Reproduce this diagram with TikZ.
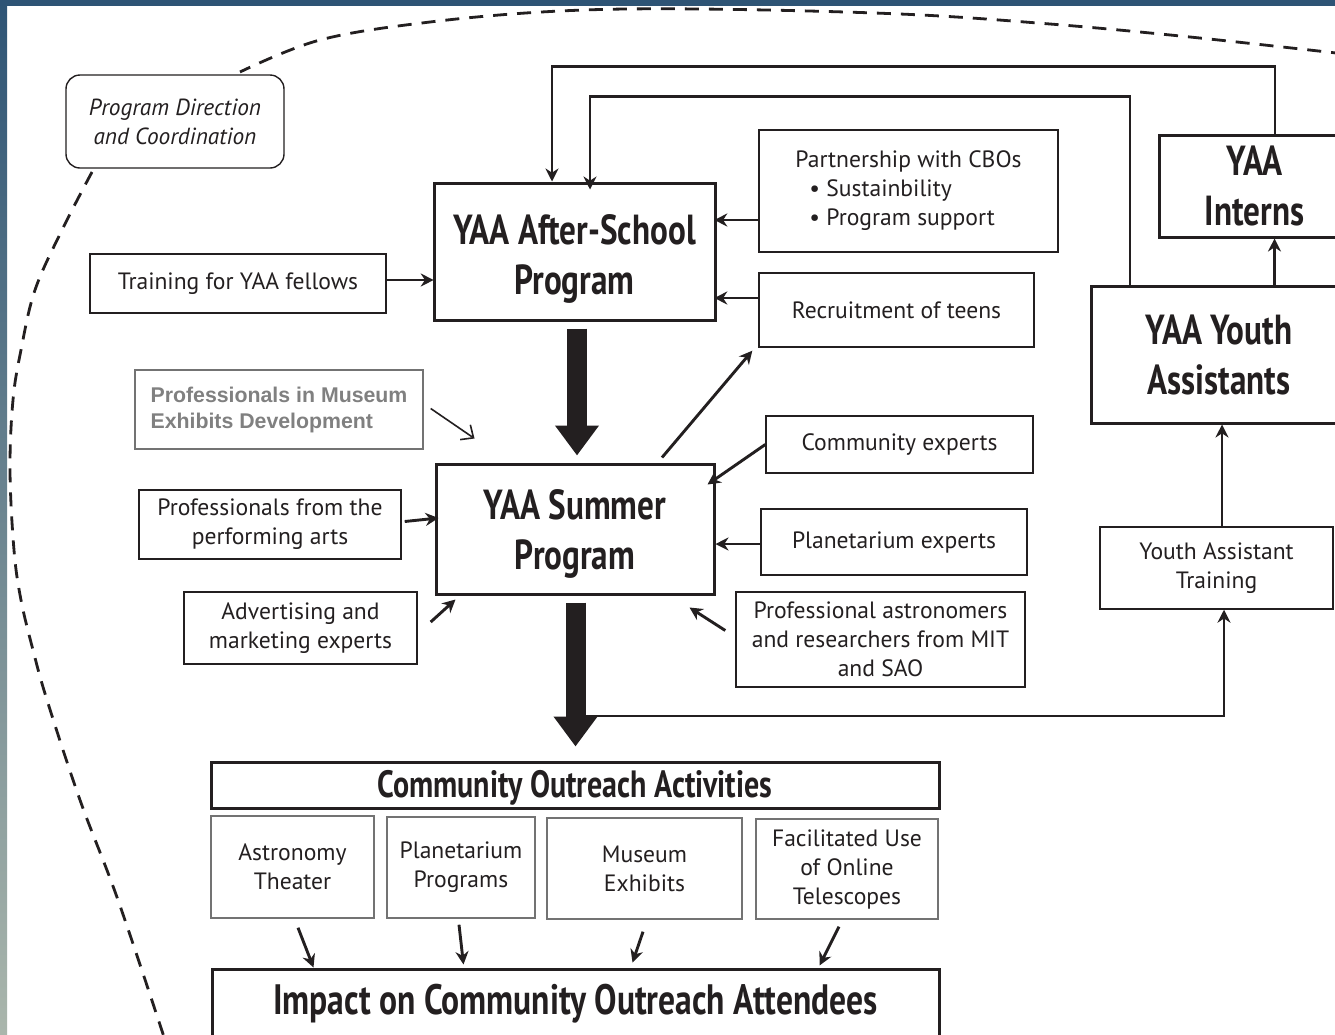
\documentclass[tikz,border=0pt]{standalone}
\usepackage{fontspec}
\setmainfont{PT Sans}
\newfontfamily\titlefont[FakeStretch=0.79]{PT Sans}
\newfontfamily\grayfont{Liberation Sans}
\usetikzlibrary{arrows.meta}
\definecolor{ink}{HTML}{231F20}
\definecolor{bandtop}{RGB}{46,84,117}
\definecolor{bandbot}{RGB}{170,182,172}
\definecolor{graytxt}{RGB}{128,128,128}
\begin{document}
\begin{tikzpicture}[x=1pt,y=-1pt,
  every node/.style={inner sep=0pt, align=center, text=ink},
  thinbox/.style={draw=ink, line width=1.4pt, font=\fontsize{23.6}{29}\selectfont},
  graybox/.style={draw=black!55, line width=1.4pt, font=\fontsize{23.6}{29}\selectfont},
  titletext/.style={font=\titlefont\bfseries\fontsize{42}{50}\selectfont},
  thickbox/.style={draw=ink, line width=3pt, titletext},
  conn/.style={draw=ink, line width=2.9pt, -{Stealth[length=13pt,width=13pt]}},
  thinconn/.style={draw=ink, line width=1.6pt, -{Straight Barb[length=10pt,width=18pt]}},
  bigarrow/.style={draw=ink, line width=20pt, -{Triangle[length=30pt,width=42pt]}},
  outline/.style={draw=ink, line width=2.8pt, dash pattern=on 14pt off 10pt}
]
\useasboundingbox (0,0) rectangle (1335,1034);
\clip (0,0) rectangle (1335,1034);
\fill[white] (0,0) rectangle (1335,1034);
\shade[top color=bandtop, bottom color=bandbot] (0,0) rectangle (7,1034);
\fill[bandtop] (0,0) rectangle (1335,6);

% dashed boundary
\draw[outline] plot[smooth, tension=0.6] coordinates {(1345,54) (1190,37) (1050,24) (900,14) (700,9) (560,11) (430,22) (320,40) (240,72)};
\draw[outline] plot[smooth, tension=0.6] coordinates {(92,172) (62,230) (35,290) (21,350) (13,400) (10,470) (14,550) (21,600) (33,650) (47,700) (80,800) (118,900) (165,1040)};

% nodes
\node[draw=ink, line width=1.4pt, rounded corners=14pt, minimum width=218pt, minimum height=93pt,
      font=\itshape\fontsize{23.3}{29}\selectfont] (pdc) at (175,121.5) {Program Direction\\and Coordination};
\node[thinbox, minimum width=296pt, minimum height=59pt] (train) at (238,283.5) {Training for YAA fellows};
\node[thickbox, minimum width=281pt, minimum height=137pt] (asp) at (574.5,251.5) {};
\node[titletext, yshift=-7pt] (asptext) at (asp.center) {YAA After-School\\Program};
\node[thinbox, minimum width=299pt, minimum height=122pt, align=left] (cbo) at (908.5,191)
  {Partnership with CBOs\\\hspace*{14pt}\textbullet\ Sustainbility\\\hspace*{14pt}\textbullet\ Program support};
\node[thinbox, minimum width=275pt, minimum height=74pt] (recruit) at (896.5,310) {Recruitment of teens};
\node[draw=black!55, line width=1.4pt, minimum width=288pt, minimum height=79pt, align=left,
      font=\grayfont\bfseries\fontsize{21.3}{26}\selectfont, text=graytxt] (museum) at (279,409.5)
  {Professionals in Museum\\Exhibits Development};
\node[thickbox, minimum width=278pt, minimum height=130pt] (summer) at (575,529) {};
\node[titletext, yshift=-5pt] (summertext) at (summer.center) {YAA Summer\\Program};
\node[thinbox, minimum width=267pt, minimum height=57pt] (comm) at (899.5,444.5) {Community experts};
\node[thinbox, minimum width=266pt, minimum height=66pt] (plan) at (894,542) {Planetarium experts};
\node[thinbox, minimum width=289pt, minimum height=95pt] (astro) at (880.5,639.5)
  {Professional astronomers\\and researchers from MIT\\and SAO};
\node[thinbox, minimum width=262pt, minimum height=69pt] (perf) at (270,524.5) {Professionals from the\\performing arts};
\node[thinbox, minimum width=233pt, minimum height=72pt] (adv) at (300.5,628) {Advertising and\\marketing experts};
\node[thickbox, minimum width=191pt, minimum height=102pt] (interns) at (1254.5,186) {YAA\\Interns};
\node[thickbox, minimum width=256pt, minimum height=137pt] (ya) at (1219,354.5) {YAA Youth\\Assistants};
\node[thinbox, minimum width=233pt, minimum height=82pt] (yat) at (1216.5,568) {Youth Assistant\\Training};
\node[thickbox, minimum width=728pt, minimum height=46pt] (coa) at (575,785) {};
\node[font=\titlefont\bfseries\fontsize{38}{40}\selectfont, yshift=-3pt] (coatext) at (coa.center) {Community Outreach Activities};
\node[graybox, minimum width=163pt, minimum height=102pt] (at) at (292.5,867) {Astronomy\\Theater};
\node[graybox, minimum width=148pt, minimum height=101pt] (pp) at (461,867.5) {Planetarium\\Programs};
\node[graybox, minimum width=195pt, minimum height=101pt] (me) at (644.5,868.5) {Museum\\Exhibits};
\node[graybox, minimum width=182pt, minimum height=100pt] (fu) at (847,869) {Facilitated Use\\of Online\\Telescopes};
\node[thickbox, minimum width=727pt, minimum height=70pt, font=\titlefont\bfseries\fontsize{42.5}{44}\selectfont] (impact) at (575.5,1004) {Impact on Community Outreach Attendees};

% big arrows
\draw[bigarrow] ([xshift=2.5pt,yshift=-7pt]asp.south) -- ([xshift=2pt,yshift=7pt]summer.north);
\draw[bigarrow] ([xshift=0.5pt,yshift=-7pt]summer.south) -- ([xshift=0.5pt,yshift=14pt]coa.north);

% connectors
\coordinate (br) at (585,716);
\draw[conn] (br) -| ([xshift=7.5pt]yat.south);
\draw[conn] (yat.north -| 1222,0) -- (ya.south -| 1222,0);
\draw[conn] (ya.north -| 1274.5,0) -- (interns.south -| 1274.5,0);
\draw[conn] (interns.north -| 1275,0) -- ++(0,-67) -| ([xshift=-22.5pt]asp.north);
\draw[conn] (ya.north -| 1130,0) -- ++(0,-188) -| ([xshift=15.5pt,yshift=-8pt]asp.north);
\draw[conn] ([yshift=-29pt]cbo.west) -- ++(-44,0);
\draw[conn] ([yshift=12pt]recruit.west) -- ++(-44,0);
\draw[conn] ([yshift=3.5pt]train.east) -- ++(47,0);
\draw[conn] ([xshift=87pt,yshift=5pt]summer.north) -- ([xshift=-6pt,yshift=-3pt]recruit.south west);
\draw[thinconn] ([xshift=7pt,yshift=1pt]museum.east) -- ([xshift=40pt,yshift=24pt]summer.north west);
\draw[conn] (comm.west) -- ([xshift=-8pt,yshift=-22pt]summer.north east);
\draw[conn] ([yshift=-2pt]plan.west) -- ([yshift=-15pt]summer.east);
\draw[conn] ([xshift=-10pt,yshift=9pt]astro.west) -- ([xshift=-26pt,yshift=-12pt]summer.south east);
\draw[conn] ([xshift=3pt,yshift=3pt]perf.east) -- ([xshift=4pt,yshift=11pt]summer.west);
\draw[conn] ([xshift=13pt,yshift=6pt]adv.east) -- ([xshift=21pt,yshift=-4pt]summer.south west);
\draw[conn] ([xshift=5.5pt,yshift=-9pt]at.south) -- ([xshift=103pt,yshift=0pt]impact.north west);
\draw[conn] ([xshift=-2pt,yshift=-6pt]pp.south) -- ([xshift=253pt,yshift=3pt]impact.north west);
\draw[conn] ([xshift=-1.5pt,yshift=-12pt]me.south) -- ([xshift=422pt,yshift=5pt]impact.north west);
\draw[conn] ([xshift=-8pt,yshift=-7pt]fu.south) -- ([xshift=609pt,yshift=2pt]impact.north west);
\end{tikzpicture}
\end{document}
